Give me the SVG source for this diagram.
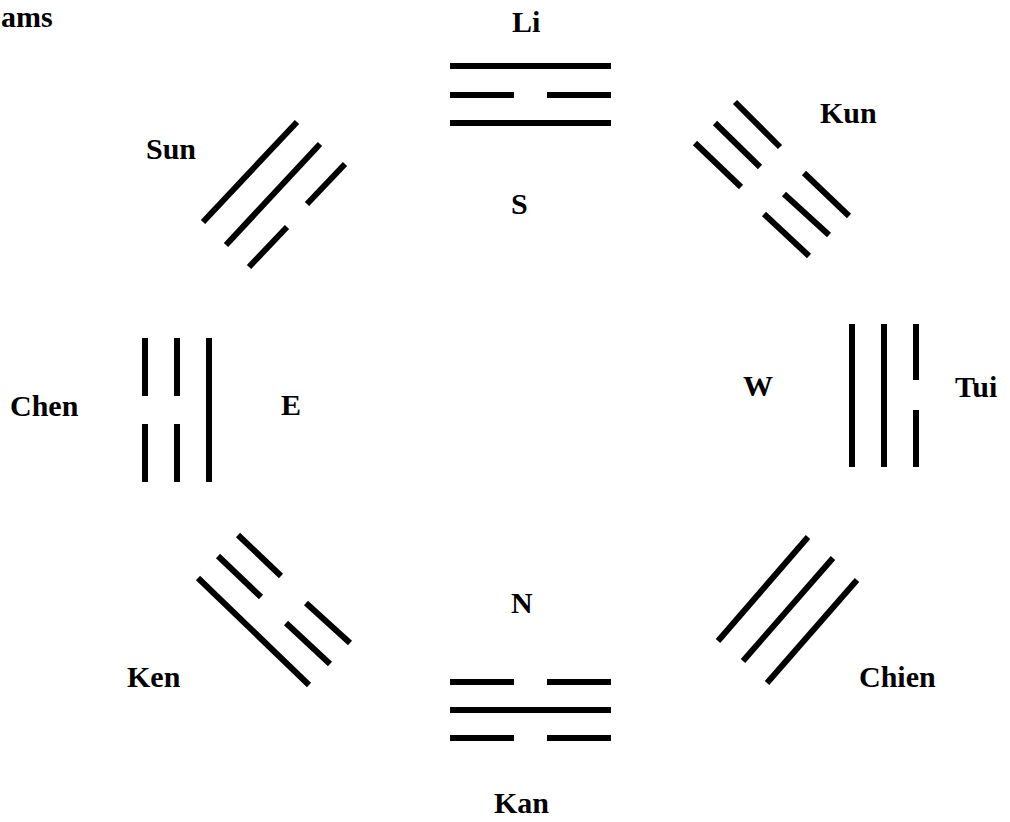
<svg xmlns="http://www.w3.org/2000/svg" width="1010" height="822" viewBox="0 0 1010 822">
<style>
.t{font-family:"Liberation Serif","Times New Roman",serif;font-weight:bold;font-size:30px;fill:#000}
.l{stroke:#000;stroke-width:6;fill:none;stroke-linecap:butt}
</style>
<rect width="1010" height="822" fill="#fff"/>
<text class="t" x="1" y="27">ams</text>
<g id="li">
<text class="t" x="512" y="32">Li</text>
<line class="l" x1="450" y1="66" x2="611" y2="66"/>
<line class="l" x1="450" y1="95" x2="514" y2="95"/>
<line class="l" x1="547" y1="95" x2="611" y2="95"/>
<line class="l" x1="450" y1="123" x2="611" y2="123"/>
</g>
<g id="s"><text class="t" x="511" y="214">S</text></g>
<g id="kun">
<text class="t" x="820" y="123">Kun</text>
<line class="l" x1="735" y1="102" x2="780" y2="147"/>
<line class="l" x1="804" y1="173" x2="849" y2="216"/>
<line class="l" x1="715" y1="123" x2="760" y2="167"/>
<line class="l" x1="784" y1="194" x2="829" y2="235"/>
<line class="l" x1="695" y1="143" x2="741" y2="187"/>
<line class="l" x1="764" y1="214" x2="809" y2="256"/>
</g>
<g id="sun">
<text class="t" x="146" y="159">Sun</text>
<line class="l" x1="203" y1="222" x2="297" y2="122"/>
<line class="l" x1="226" y1="245" x2="320" y2="144"/>
<line class="l" x1="249" y1="267" x2="287" y2="227"/>
<line class="l" x1="307" y1="204" x2="345" y2="164"/>
</g>
<g id="chen">
<text class="t" x="10" y="416">Chen</text>
<line class="l" x1="145" y1="338" x2="145" y2="396"/>
<line class="l" x1="145" y1="424" x2="145" y2="482"/>
<line class="l" x1="177" y1="338" x2="177" y2="396"/>
<line class="l" x1="177" y1="424" x2="177" y2="482"/>
<line class="l" x1="209" y1="338" x2="209" y2="482"/>
</g>
<g id="e"><text class="t" x="281" y="415">E</text></g>
<g id="w"><text class="t" x="743" y="396">W</text></g>
<g id="tui">
<text class="t" x="955" y="397">Tui</text>
<line class="l" x1="852" y1="324" x2="852" y2="467"/>
<line class="l" x1="884" y1="324" x2="884" y2="467"/>
<line class="l" x1="916" y1="324" x2="916" y2="380"/>
<line class="l" x1="916" y1="410" x2="916" y2="467"/>
</g>
<g id="ken">
<text class="t" x="127" y="687">Ken</text>
<line class="l" x1="238" y1="535" x2="281" y2="576"/>
<line class="l" x1="306" y1="603" x2="350" y2="643"/>
<line class="l" x1="218" y1="556" x2="261" y2="597"/>
<line class="l" x1="286" y1="623" x2="330" y2="664"/>
<line class="l" x1="198" y1="578" x2="309" y2="685"/>
</g>
<g id="chien">
<text class="t" x="859" y="687">Chien</text>
<line class="l" x1="718" y1="641" x2="808" y2="537"/>
<line class="l" x1="743" y1="661" x2="833" y2="558"/>
<line class="l" x1="767" y1="683" x2="857" y2="580"/>
</g>
<g id="n"><text class="t" x="511" y="613">N</text></g>
<g id="kan">
<text class="t" x="494" y="813">Kan</text>
<line class="l" x1="450" y1="682" x2="514" y2="682"/>
<line class="l" x1="547" y1="682" x2="611" y2="682"/>
<line class="l" x1="450" y1="710" x2="611" y2="710"/>
<line class="l" x1="450" y1="738" x2="514" y2="738"/>
<line class="l" x1="547" y1="738" x2="611" y2="738"/>
</g>
</svg>
